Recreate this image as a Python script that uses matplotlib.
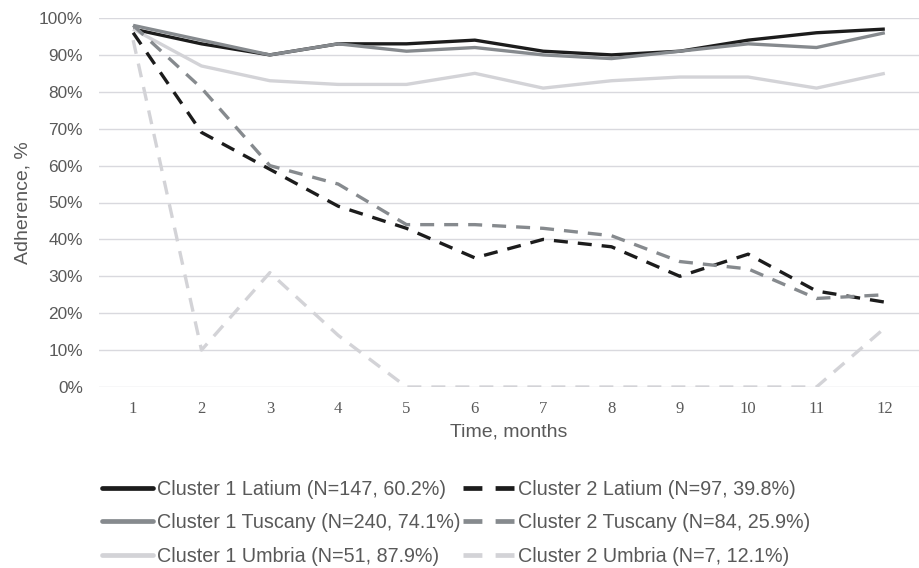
import matplotlib
matplotlib.use("Agg")
import matplotlib.pyplot as plt
from matplotlib.lines import Line2D
from matplotlib.ticker import PercentFormatter

months = list(range(1, 13))

c1_latium = [97, 93, 90, 93, 93, 94, 91, 90, 91, 94, 96, 97]
c1_tuscany = [98, 94, 90, 93, 91, 92, 90, 89, 91, 93, 92, 96]
c1_umbria = [97, 87, 83, 82, 82, 85, 81, 83, 84, 84, 81, 85]
c2_latium = [96, 69, 59, 49, 43, 35, 40, 38, 30, 36, 26, 23]
c2_tuscany = [98, 81, 60, 55, 44, 44, 43, 41, 34, 32, 24, 25]
c2_umbria = [94, 10, 31, 14, 0, 0, 0, 0, 0, 0, 0, 16]

labels_c1 = ["Cluster 1 Latium (N=147, 60.2%)",
             "Cluster 1 Tuscany (N=240, 74.1%)",
             "Cluster 1 Umbria (N=51, 87.9%)"]
labels_c2 = ["Cluster 2 Latium (N=97, 39.8%)",
             "Cluster 2 Tuscany (N=84, 25.9%)",
             "Cluster 2 Umbria (N=7, 12.1%)"]

colors = ["#1c1c1c", "#868a8e", "#d3d3d7"]
text_col = "#595959"

plt.rcParams['font.family'] = ['Liberation Sans', 'DejaVu Sans']

fig = plt.figure(figsize=(9.2, 5.68), dpi=100)
ax = fig.add_axes([99 / 920, 1 - 387 / 568, 820 / 920, 369 / 568])

for ys, col in zip([c1_latium, c1_tuscany, c1_umbria], colors):
    ax.plot(months, ys, color=col, lw=2.4, solid_capstyle='butt', zorder=3)
for ys, col in zip([c2_latium, c2_tuscany, c2_umbria], colors):
    ax.plot(months, ys, color=col, lw=2.4, dashes=(4.2, 3.0),
            dash_capstyle='butt', zorder=3)

ax.set_xlim(0.5, 12.5)
ax.set_ylim(0, 100)
ax.set_yticks(range(0, 101, 10))
ax.yaxis.set_major_formatter(PercentFormatter(decimals=0))
ax.set_xticks(months)
ax.grid(axis='y', color='#d9d9de', lw=1, zorder=0)
for s in ax.spines.values():
    s.set_visible(False)
ax.tick_params(length=0, colors=text_col)
ax.tick_params(axis='y', labelsize=12.4, pad=11.5)
ax.tick_params(axis='x', labelsize=12, pad=10)
for t in ax.get_xticklabels():
    t.set_family('Liberation Serif')

ax.set_xlabel("Time, months", fontsize=14, color=text_col, labelpad=5)
ax.set_ylabel("Adherence, %", fontsize=14, color=text_col, labelpad=5)

# legend proxies: two dashes per dashed handle, as in the original
handles = [Line2D([], [], color=c, lw=3.4, solid_capstyle='round') for c in colors]
handles += [Line2D([], [], color=c, lw=3.4, dashes=(4.0, 2.8),
                   dash_capstyle='butt') for c in colors]

leg = fig.legend(handles=handles, labels=labels_c1 + labels_c2, ncol=2,
                 loc='upper left', bbox_to_anchor=(102 / 920, 1 - 480 / 568),
                 frameon=False, fontsize=14.2, handlelength=2.6,
                 handletextpad=0.2, columnspacing=0.1,
                 labelspacing=0.73, borderaxespad=0, borderpad=0)
for t in leg.get_texts():
    t.set_color(text_col)

fig.savefig("out.png", dpi=100)
